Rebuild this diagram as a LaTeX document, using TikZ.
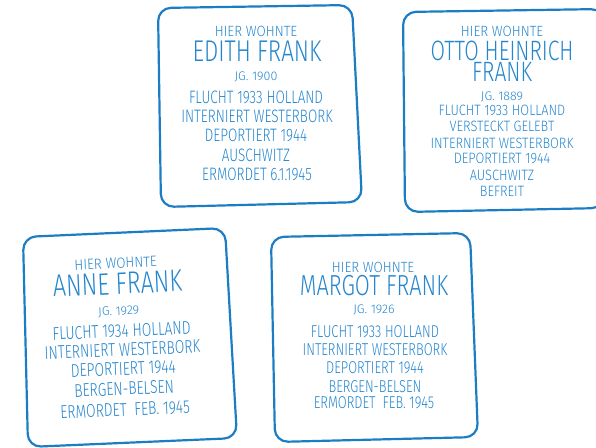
\documentclass[tikz,border=0pt]{standalone}
\usepackage{fontspec}
\setmainfont{Fira Sans}[UprightFont=* Light]
\newfontfamily\condfont{Fira Sans}[UprightFont=* Light, FakeStretch=0.75]
\newfontfamily\semifont{Fira Sans}[UprightFont=* Light, FakeStretch=0.85]
\newfontfamily\hierfont{Fira Sans}[UprightFont=* Light, FakeStretch=0.9]
\definecolor{stoneline}{RGB}{28,124,196}
\definecolor{stonetext}{RGB}{36,134,206}
\tikzset{
  stone/.style={draw=stoneline, line width=2.2pt, rounded corners=13pt, line join=round},
  stonetxt/.style={text=stonetext, inner sep=0pt, anchor=base, text depth=0pt},
  hier/.style={stonetxt, text height=10.2pt, font=\hierfont\fontsize{14.8}{15}\selectfont},
  bigname/.style={stonetxt, text height=20.5pt, font=\condfont\fontsize{30}{30}\selectfont},
  jahr/.style={stonetxt, text height=8.6pt, font=\fontsize{12.5}{13}\selectfont},
  fact/.style={stonetxt, text height=12.5pt, font=\condfont\fontsize{18}{18}\selectfont},
  ottofact/.style={stonetxt, text height=10.3pt, font=\semifont\fontsize{15}{15}\selectfont}
}
\begin{document}
\begin{tikzpicture}[x=1pt,y=-1pt]
  \useasboundingbox (0,0) rectangle (596,447);

  % Edith
  \begin{scope}
    \draw [stone] (158,8) -- (352,5) -- (362,202) -- (161,207) -- cycle;
    \node [hier] (e1) at (256,36.5) {HIER WOHNTE};
    \node [bigname] (e2) at (257,61.5) {EDITH FRANK};
    \node [jahr] (e3) at (256,80) {JG. 1900};
    \node [fact] (e4) at (256,103.3) {FLUCHT 1933 HOLLAND};
    \node [fact] (e5) at (257,122.5) {INTERNIERT WESTERBORK};
    \node [fact] (e6) at (256,141.5) {DEPORTIERT 1944};
    \node [fact] (e7) at (256,161) {AUSCHWITZ};
    \node [fact] (e8) at (257,180) {ERMORDET 6.1.1945};
  \end{scope}

  % Otto
  \begin{scope}
    \draw [stone] (403,12) -- (604,9) -- (604,208) -- (405,212) -- cycle;
    \node [hier] (o1) at (502,36) {HIER WOHNTE};
    \node [bigname, text height=19pt, font=\condfont\fontsize{28}{28}\selectfont] (o2) at (502,60) {OTTO HEINRICH};
    \node [bigname, text height=19pt, font=\condfont\fontsize{28}{28}\selectfont] (o3) at (502,81.7) {FRANK};
    \node [jahr] (o4) at (502,100) {JG. 1889};
    \node [ottofact] (o5) at (502,115) {FLUCHT 1933 HOLLAND};
    \node [ottofact] (o6) at (502,131.7) {VERSTECKT GELEBT};
    \node [ottofact] (o7) at (502,148) {INTERNIERT WESTERBORK};
    \node [ottofact] (o8) at (502,163.5) {DEPORTIERT 1944};
    \node [ottofact] (o9) at (502,180) {AUSCHWITZ};
    \node [ottofact] (o10) at (502,196.7) {BEFREIT};
  \end{scope}

  % Anne
  \begin{scope}
    \draw [stone] (23,237) -- (225,228) -- (237,438) -- (28,447) -- cycle;
  \end{scope}
  \begin{scope}[rotate around={2.5:(123,340)}, transform shape]
    \node [hier] (a1) at (119,268) {HIER WOHNTE};
    \node [bigname, text height=21pt, font=\condfont\fontsize{31}{31}\selectfont] (a2) at (120,294) {ANNE FRANK};
    \node [jahr] (a3) at (120,315) {JG. 1929};
    \node [fact, font=\condfont\fontsize{18.5}{18.5}\selectfont] (a4) at (122,337) {FLUCHT 1934 HOLLAND};
    \node [fact, font=\condfont\fontsize{18.5}{18.5}\selectfont] (a5) at (122,356) {INTERNIERT WESTERBORK};
    \node [fact, font=\condfont\fontsize{18.5}{18.5}\selectfont] (a6) at (122,375) {DEPORTIERT 1944};
    \node [fact, font=\condfont\fontsize{18.5}{18.5}\selectfont] (a7) at (122,395) {BERGEN-BELSEN};
    \node [fact, font=\condfont\fontsize{18.5}{18.5}\selectfont] (a8) at (122,416) {ERMORDET\ \ FEB. 1945};
  \end{scope}

  % Margot
  \begin{scope}
    \draw [stone] (271,237) -- (470,233) -- (478,437) -- (275,442) -- cycle;
    \node [hier] (m1) at (373,272) {HIER WOHNTE};
    \node [bigname, text height=20pt, font=\condfont\fontsize{29}{29}\selectfont] (m2) at (374,295) {MARGOT FRANK};
    \node [jahr] (m3) at (374,313) {JG. 1926};
    \node [fact, text height=12pt, font=\condfont\fontsize{17.2}{17.2}\selectfont] (m4) at (375,337) {FLUCHT 1933 HOLLAND};
    \node [fact, text height=12pt, font=\condfont\fontsize{17.2}{17.2}\selectfont] (m5) at (375,355) {INTERNIERT WESTERBORK};
    \node [fact, text height=12pt, font=\condfont\fontsize{17.2}{17.2}\selectfont] (m6) at (375,373) {DEPORTIERT 1944};
    \node [fact, text height=12pt, font=\condfont\fontsize{17.2}{17.2}\selectfont] (m7) at (375,392) {BERGEN-BELSEN};
    \node [fact, text height=12pt, font=\condfont\fontsize{17.2}{17.2}\selectfont] (m8) at (374,408) {ERMORDET\ \ FEB. 1945};
  \end{scope}
\end{tikzpicture}
\end{document}
